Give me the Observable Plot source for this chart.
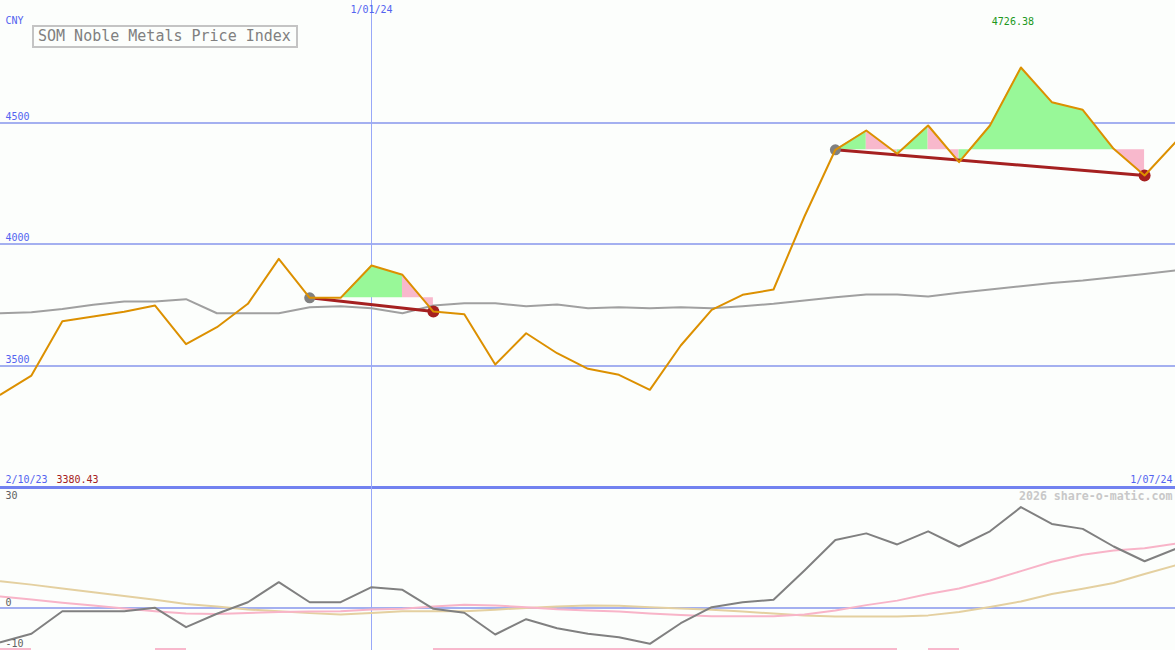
<!DOCTYPE html>
<html><head><meta charset="utf-8">
<script src="https://cdn.jsdelivr.net/npm/d3@7"></script>
<script src="https://cdn.jsdelivr.net/npm/@observablehq/plot@0.6"></script>
<style>
html,body{margin:0;padding:0;background:#fcfefc;overflow:hidden}
#wrap{position:relative;width:1175px;height:650px;}
#wrap svg{display:block}
#title{position:absolute;z-index:2;left:32px;top:25px;width:258px;height:19px;padding-left:4px;border:2px solid #c4c4c4;font:15px "DejaVu Sans Mono",monospace;color:#808080;line-height:19px;white-space:nowrap}
</style></head><body>
<div id="wrap"><div id="title">SOM Noble Metals Price Index</div></div>
<script>
// ---------- data (weekly, 2/10/23 .. 1/07/24) ----------
const firstLabel = "2/10/23";
const lastLabel = "1/07/24";
const monthMarks = [{i: 12, label: "1/01/24"}];
const unitLabel = "CNY";
const watermark = "2026 share-o-matic.com";

const price = [3380.43, 3458.8, 3682.3, 3701.6, 3721.0, 3746.9, 3587.7, 3657.6, 3753.9, 3939.1,
  3778.6, 3778.6, 3911.5, 3873.3, 3722.2, 3711.1, 3504.1, 3632.9, 3550.6, 3486.4,
  3461.7, 3400.0, 3582.3, 3729.2, 3790.9, 3812.8, 4113.2, 4387.7, 4467.1, 4371.2,
  4487.7, 4336.6, 4487.7, 4726.38, 4583.5, 4552.3, 4391.8, 4281.9, 4418.9];

const movingAvg = [3715, 3719, 3733, 3750, 3763, 3763, 3773, 3715, 3715, 3715,
  3740, 3744, 3736, 3715, 3747, 3756, 3756, 3744, 3751, 3736,
  3740, 3736, 3740, 3736, 3744, 3754, 3768, 3781, 3792, 3792,
  3784, 3799, 3813, 3826, 3840, 3850, 3863, 3877, 3891];

const deviation = [-8.34, -6.29, -0.78, -0.78, -0.78, 0.05, -4.68, -1.41, 1.41, 6.29,
  1.41, 1.41, 5.07, 4.44, -0.2, -1.17, -6.46, -2.73, -4.93, -6.29,
  -7.12, -8.73, -3.71, 0.2, 1.41, 2.0, 9.15, 16.6, 18.2, 15.5,
  18.7, 15.0, 18.7, 24.6, 20.5, 19.3, 15.0, 11.4, 14.4];

const pinkAvg = [2.8, 2.1, 1.3, 0.6, -0.1, -0.8, -1.35, -1.45, -1.2, -1.0,
  -0.85, -0.8, -0.35, -0.2, 0.35, 0.8, 0.6, 0.2, -0.3, -0.6,
  -0.85, -1.35, -1.7, -2.0, -2.0, -2.0, -1.6, -0.6, 0.7, 1.8,
  3.4, 4.75, 6.7, 9.0, 11.3, 13.0, 14.0, 14.6, 15.7];

const tanAvg = [6.5, 5.7, 4.75, 3.85, 2.9, 2.0, 1.0, 0.35, -0.35, -0.8,
  -1.25, -1.6, -1.2, -0.8, -0.8, -0.8, -0.4, 0.0, 0.35, 0.6,
  0.55, 0.2, -0.1, -0.45, -0.85, -1.35, -1.8, -2.05, -2.05, -2.05,
  -1.8, -1.0, 0.25, 1.6, 3.4, 4.7, 6.1, 8.3, 10.4];

const signalWeeks = [0, 5, 14, 15, 16, 17, 18, 19, 20, 21, 22, 23, 24, 25, 26, 27, 28, 30];

const patterns = [{start: 10, end: 14}, {start: 27, end: 37}];

const upperTicks = [4500, 4000, 3500];
const lowerTicks = [30, 0, -10];

// ---------- styling ----------
const C = {
  grid: "#a4b0f0", vline: "#98a8f8", sep: "#7282f0", tick: "#5464f0",
  price: "#dc9000", ma: "#a0a0a0", up: "#98f898", down: "#f8b8cc",
  trend: "#a52020", startDot: "#808080", endDot: "#a52020",
  dev: "#808080", pink: "#f8b4c8", tan: "#e4d0a0", lowTick: "#606060"
};
const FONT = "DejaVu Sans Mono, monospace";
const W = 1175, H1 = 488, H2 = 162;
const n = price.length;
const idx = d3.range(n);

const upDomain = [2994, 5002];
const pxU = 4.1;
const lowDomain = [-(H2 - 119.5) / pxU, 119.5 / pxU];

// derived tables: fills between price and the pattern's starting level,
// merged into runs of the same colour
const fillRows = [];
const trendRows = [];
patterns.forEach((p, k) => {
  const base = price[p.start];
  let run = -1, prevColor = null;
  for (let i = p.start; i < p.end; i++) {
    const color = price[i + 1] >= base ? C.up : C.down;
    if (color !== prevColor) {
      run++;
      prevColor = color;
      fillRows.push({seg: k + "-" + run, i, v: price[i], base, color});
    }
    fillRows.push({seg: k + "-" + run, i: i + 1, v: price[i + 1], base, color});
  }
  trendRows.push({p: k, i: p.start, v: price[p.start]}, {p: k, i: p.end, v: price[p.end]});
});
const maxI = d3.maxIndex(price), minI = d3.minIndex(price);

const upper = Plot.plot({
  width: W, height: H1, margin: 0,
  x: {domain: [0, n - 1], axis: null},
  y: {domain: upDomain, axis: null},
  color: {type: "identity"},
  style: {background: "transparent", fontFamily: FONT, overflow: "visible"},
  marks: [
    Plot.ruleY(upperTicks, {stroke: C.grid, strokeWidth: 2, shapeRendering: "crispEdges"}),
    Plot.ruleY([3000], {stroke: C.sep, strokeWidth: 3, shapeRendering: "crispEdges"}),
    Plot.ruleX(monthMarks, {x: "i", stroke: C.vline, strokeWidth: 1, shapeRendering: "crispEdges"}),
    Plot.areaY(fillRows, {x: "i", y1: "base", y2: "v", z: "seg", fill: "color"}),
    Plot.line(idx, {x: i => i, y: i => movingAvg[i], stroke: C.ma, strokeWidth: 2}),
    Plot.line(trendRows, {x: "i", y: "v", z: "p", stroke: C.trend, strokeWidth: 3}),
    Plot.dot(patterns, {x: "start", y: p => price[p.start], r: 5.5, fill: C.startDot}),
    Plot.dot(patterns, {x: "end", y: p => price[p.end], r: 6, fill: C.endDot}),
    Plot.line(idx, {x: i => i, y: i => price[i], stroke: C.price, strokeWidth: 2}),
    Plot.text(upperTicks, {y: d => d, text: d => String(d), frameAnchor: "left", dx: 5, dy: -6, textAnchor: "start", fill: C.tick, fontSize: 10}),
    Plot.text([unitLabel], {text: d => d, frameAnchor: "top-left", dx: 5, dy: 20, lineAnchor: "middle", textAnchor: "start", fill: C.tick, fontSize: 10}),
    Plot.text(monthMarks, {x: "i", text: "label", frameAnchor: "top", dy: 9, lineAnchor: "middle", fill: C.tick, fontSize: 10}),
    Plot.text([maxI], {x: i => i, text: i => d3.format(".2f")(price[i]), frameAnchor: "top", dx: -8, dy: 21, lineAnchor: "middle", fill: "#209820", fontSize: 10}),
    Plot.text([firstLabel], {text: d => d, frameAnchor: "bottom-left", dx: 5, dy: -9, lineAnchor: "middle", textAnchor: "start", fill: C.tick, fontSize: 10}),
    Plot.text([minI], {text: i => d3.format(".2f")(price[i]), frameAnchor: "bottom-left", dx: 56, dy: -9, lineAnchor: "middle", textAnchor: "start", fill: C.trend, fontSize: 10}),
    Plot.text([lastLabel], {text: d => d, frameAnchor: "bottom-right", dx: -3, dy: -9, lineAnchor: "middle", textAnchor: "end", fill: C.tick, fontSize: 10})
  ]
});

const lower = Plot.plot({
  width: W, height: H2, margin: 0,
  x: {domain: [0, n - 1], axis: null},
  y: {domain: lowDomain, axis: null},
  style: {background: "transparent", fontFamily: FONT},
  marks: [
    Plot.ruleY([0], {stroke: C.grid, strokeWidth: 2, shapeRendering: "crispEdges"}),
    Plot.ruleX(monthMarks, {x: "i", stroke: C.vline, strokeWidth: 1, shapeRendering: "crispEdges"}),
    Plot.line(idx, {x: i => i, y: i => tanAvg[i], stroke: C.tan, strokeWidth: 2}),
    Plot.line(idx, {x: i => i, y: i => pinkAvg[i], stroke: C.pink, strokeWidth: 2}),
    Plot.line(idx, {x: i => i, y: i => deviation[i], stroke: C.dev, strokeWidth: 2}),
    Plot.ruleY(signalWeeks, {x1: d => d, x2: d => d + 1, y: lowDomain[0], stroke: C.down, strokeWidth: 6, shapeRendering: "crispEdges"}),
    Plot.text(lowerTicks, {y: d => Math.min(d, lowDomain[1] - 12 / pxU), text: d => String(d), frameAnchor: "left", dx: 5, dy: -2, lineAnchor: "bottom", textAnchor: "start", fill: C.lowTick, fontSize: 10}),
    Plot.text([watermark], {text: d => d, frameAnchor: "top-right", dx: -3, dy: 8, lineAnchor: "middle", textAnchor: "end", fill: "#c8c8c8", fontWeight: "bold", fontSize: 11.6})
  ]
});

const wrap = document.getElementById("wrap");
wrap.appendChild(upper);
wrap.appendChild(lower);
</script>
</body></html>
